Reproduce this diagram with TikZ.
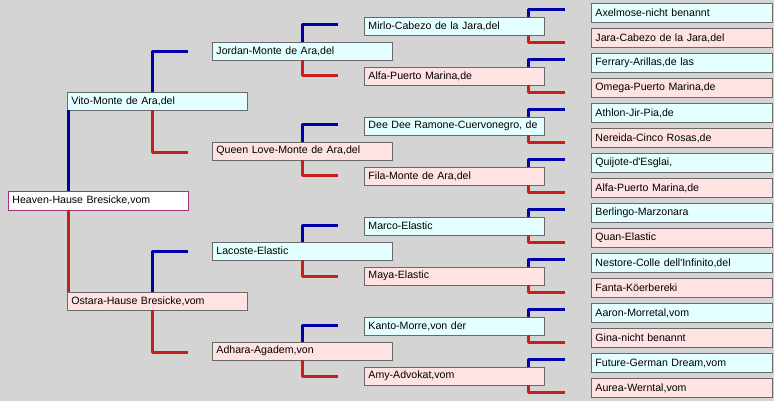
\documentclass[tikz,border=0pt]{standalone}
\usepackage{fontspec}
\setmainfont{Liberation Sans}
\definecolor{bggray}{RGB}{212,212,212}
\definecolor{sirecol}{RGB}{0,0,170}
\definecolor{damcol}{RGB}{200,30,30}
\definecolor{sirefill}{RGB}{228,255,255}
\definecolor{damfill}{RGB}{255,226,226}
\definecolor{boxline}{RGB}{105,105,105}
\definecolor{rootline}{RGB}{170,50,120}

\tikzset{
    animal/.style={draw=boxline, line width=0.9pt, anchor=west, text width=172pt, inner xsep=4pt, inner ysep=0pt, minimum height=18pt, align=left, font=\fontsize{10.6}{12}\selectfont},
    male/.style={animal, fill=sirefill},
    female/.style={animal, fill=damfill},
    lastgen/.style={text width=173pt, minimum height=19.4pt},
    sire/.style={sirecol, line width=3pt, line join=round},
    dam/.style={damcol, line width=3pt, line join=round}
}

\begin{document}
\begin{tikzpicture}[x=1pt, y=-1pt]
    % one unit = one pixel of the screenshot, y runs downwards
    \fill [bggray] (0,0) rectangle (774,401);
    \useasboundingbox (0,0) rectangle (774,401);

    % the dog itself
    \node [animal, fill=white, draw=rootline, minimum height=19pt] (heaven) at (8, 200.5) {Heaven-Hause Bresicke,vom};

    % parents
    \node [male] (vito) at (67, 101) {Vito-Monte de Ara,del};
    \node [female] (ostara) at (67, 301) {Ostara-Hause Bresicke,vom};

    % grandparents
    \node [male] (jordan) at (212, 51) {Jordan-Monte de Ara,del};
    \node [female] (queen) at (212, 151) {Queen Love-Monte de Ara,del};
    \node [male] (lacoste) at (212, 251) {Lacoste-Elastic};
    \node [female] (adhara) at (212, 351) {Adhara-Agadem,von};

    % great-grandparents
    \node [male] (mirlo) at (364, 26) {Mirlo-Cabezo de la Jara,del};
    \node [female] (alfa) at (364, 76) {Alfa-Puerto Marina,de};
    \node [male] (deedee) at (364, 126) {Dee Dee Ramone-Cuervonegro, de};
    \node [female] (fila) at (364, 176) {Fila-Monte de Ara,del};
    \node [male] (marco) at (364, 226) {Marco-Elastic};
    \node [female] (maya) at (364, 276) {Maya-Elastic};
    \node [male] (kanto) at (364, 326) {Kanto-Morre,von der};
    \node [female] (amy) at (364, 376) {Amy-Advokat,vom};

    % last column
    \node [male, lastgen] (axelmose) at (591, 13) {Axelmose-nicht benannt};
    \node [female, lastgen] (jara) at (591, 38) {Jara-Cabezo de la Jara,del};
    \node [male, lastgen] (ferrary) at (591, 63) {Ferrary-Arillas,de las};
    \node [female, lastgen] (omega) at (591, 88) {Omega-Puerto Marina,de};
    \node [male, lastgen] (athlon) at (591, 113) {Athlon-Jir-Pia,de};
    \node [female, lastgen] (nereida) at (591, 138) {Nereida-Cinco Rosas,de};
    \node [male, lastgen] (quijote) at (591, 163) {Quijote-d\textquotesingle Esglai,};
    \node [female, lastgen] (alfab) at (591, 188) {Alfa-Puerto Marina,de};
    \node [male, lastgen] (berlingo) at (591, 213) {Berlingo-Marzonara};
    \node [female, lastgen] (quan) at (591, 238) {Quan-Elastic};
    \node [male, lastgen] (nestore) at (591, 263) {Nestore-Colle dell\textquotesingle Infinito,del};
    \node [female, lastgen] (fanta) at (591, 288) {Fanta-Köerbereki};
    \node [male, lastgen] (aaron) at (591, 313) {Aaron-Morretal,vom};
    \node [female, lastgen] (gina) at (591, 338) {Gina-nicht benannt};
    \node [male, lastgen] (future) at (591, 363) {Future-German Dream,vom};
    \node [female, lastgen] (aurea) at (591, 388) {Aurea-Werntal,vom};

    % where the brackets stand
    \coordinate (col_0) at (68.5, 0);
    \coordinate (col_1) at (152, 0);
    \coordinate (col_2) at (302, 0);
    \coordinate (col_3) at (528, 0);

    % free ends, they stop short of the boxes
    \coordinate (jordan_in) at (188, 51.5);
    \coordinate (queen_in) at (188, 152.5);
    \coordinate (lacoste_in) at (188, 251.5);
    \coordinate (adhara_in) at (188, 352.5);

    \coordinate (mirlo_in) at (338, 25);
    \coordinate (alfa_in) at (338, 76);
    \coordinate (deedee_in) at (338, 125);
    \coordinate (fila_in) at (338, 176);
    \coordinate (marco_in) at (338, 225);
    \coordinate (maya_in) at (338, 276);
    \coordinate (kanto_in) at (338, 325);
    \coordinate (amy_in) at (338, 376);

    \coordinate (axelmose_in) at (565, 9.5);
    \coordinate (jara_in) at (565, 42.5);
    \coordinate (ferrary_in) at (565, 59.5);
    \coordinate (omega_in) at (565, 92.5);
    \coordinate (athlon_in) at (565, 109.5);
    \coordinate (nereida_in) at (565, 142.5);
    \coordinate (quijote_in) at (565, 159.5);
    \coordinate (alfab_in) at (565, 192.5);
    \coordinate (berlingo_in) at (565, 209.5);
    \coordinate (quan_in) at (565, 242.5);
    \coordinate (nestore_in) at (565, 259.5);
    \coordinate (fanta_in) at (565, 292.5);
    \coordinate (aaron_in) at (565, 309.5);
    \coordinate (gina_in) at (565, 342.5);
    \coordinate (future_in) at (565, 359.5);
    \coordinate (aurea_in) at (565, 392.5);

    \draw [sire] (heaven.north -| col_0) -- (vito.south -| col_0);
    \draw [dam] (heaven.south -| col_0) -- (ostara.north -| col_0);

    \draw [sire] (vito.north -| col_1) |- (jordan_in);
    \draw [dam] (vito.south -| col_1) |- (queen_in);
    \draw [sire] (ostara.north -| col_1) |- (lacoste_in);
    \draw [dam] (ostara.south -| col_1) |- (adhara_in);

    \draw [sire] (jordan.north -| col_2) |- (mirlo_in);
    \draw [dam] (jordan.south -| col_2) |- (alfa_in);
    \draw [sire] (queen.north -| col_2) |- (deedee_in);
    \draw [dam] (queen.south -| col_2) |- (fila_in);
    \draw [sire] (lacoste.north -| col_2) |- (marco_in);
    \draw [dam] (lacoste.south -| col_2) |- (maya_in);
    \draw [sire] (adhara.north -| col_2) |- (kanto_in);
    \draw [dam] (adhara.south -| col_2) |- (amy_in);

    \draw [sire] (mirlo.north -| col_3) |- (axelmose_in);
    \draw [dam] (mirlo.south -| col_3) |- (jara_in);
    \draw [sire] (alfa.north -| col_3) |- (ferrary_in);
    \draw [dam] (alfa.south -| col_3) |- (omega_in);
    \draw [sire] (deedee.north -| col_3) |- (athlon_in);
    \draw [dam] (deedee.south -| col_3) |- (nereida_in);
    \draw [sire] (fila.north -| col_3) |- (quijote_in);
    \draw [dam] (fila.south -| col_3) |- (alfab_in);
    \draw [sire] (marco.north -| col_3) |- (berlingo_in);
    \draw [dam] (marco.south -| col_3) |- (quan_in);
    \draw [sire] (maya.north -| col_3) |- (nestore_in);
    \draw [dam] (maya.south -| col_3) |- (fanta_in);
    \draw [sire] (kanto.north -| col_3) |- (aaron_in);
    \draw [dam] (kanto.south -| col_3) |- (gina_in);
    \draw [sire] (amy.north -| col_3) |- (future_in);
    \draw [dam] (amy.south -| col_3) |- (aurea_in);

\end{tikzpicture}
\end{document}
